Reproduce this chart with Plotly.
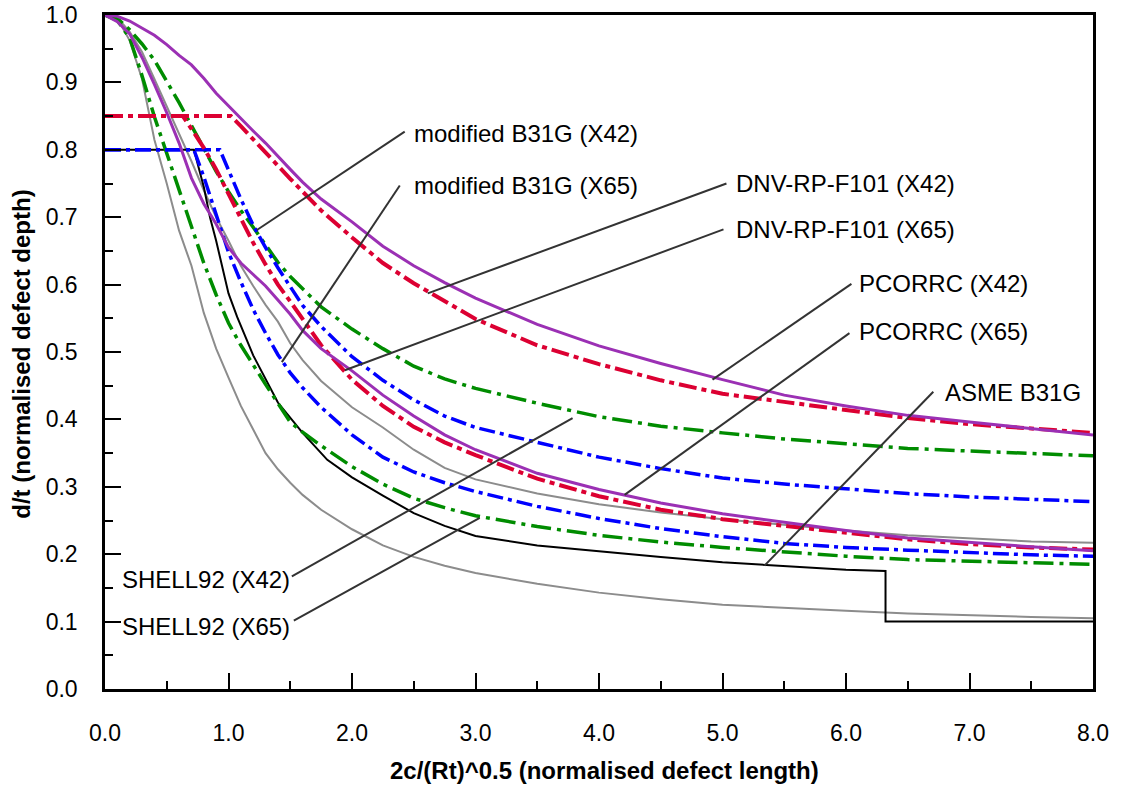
import plotly.graph_objects as go

# ---------------- data ----------------
x_common = [0, 0.1, 0.2, 0.3, 0.4, 0.5, 0.6, 0.7, 0.8, 0.9, 1.0, 1.1, 1.2, 1.3, 1.4,
            1.5, 1.6, 1.75, 2.0, 2.25, 2.5, 2.75, 3.0, 3.5, 4.0, 4.5, 5.0, 5.5,
            6.0, 6.5, 7.0, 7.5, 8.0]

gray_upper = [1.0, 0.996, 0.975, 0.945, 0.905, 0.865, 0.824, 0.783, 0.74, 0.70, 0.665,
              0.628, 0.598, 0.57, 0.545, 0.513, 0.488, 0.457, 0.418, 0.388, 0.355, 0.328,
              0.311, 0.29, 0.274, 0.262, 0.252, 0.243, 0.235, 0.228, 0.223, 0.219, 0.217]
gray_lower = [1.0, 0.995, 0.962, 0.905, 0.815, 0.75, 0.68, 0.628, 0.558, 0.505, 0.462,
              0.42, 0.385, 0.35, 0.326, 0.306, 0.288, 0.266, 0.237, 0.213, 0.196, 0.183,
              0.172, 0.156, 0.143, 0.133, 0.125, 0.12, 0.116, 0.112, 0.109, 0.107, 0.105]

shell92_x42 = [1.0, 0.995, 0.978, 0.957, 0.933, 0.902, 0.87, 0.836, 0.803, 0.768, 0.738,
               0.71, 0.685, 0.658, 0.633, 0.612, 0.594, 0.567, 0.534, 0.505, 0.479, 0.46,
               0.446, 0.424, 0.404, 0.39, 0.38, 0.371, 0.364, 0.357, 0.353, 0.349, 0.346]
shell92_x65 = [1.0, 0.992, 0.966, 0.91, 0.849, 0.795, 0.742, 0.686, 0.632, 0.585, 0.543,
               0.51, 0.48, 0.452, 0.424, 0.396, 0.381, 0.361, 0.33, 0.304, 0.283, 0.269,
               0.257, 0.241, 0.228, 0.218, 0.21, 0.203, 0.197, 0.192, 0.19, 0.187, 0.185]

pcorrc_x42 = [1.0, 0.998, 0.991, 0.981, 0.970, 0.956, 0.940, 0.926, 0.906, 0.884, 0.865,
              0.846, 0.828, 0.81, 0.79, 0.771, 0.752, 0.727, 0.693, 0.657, 0.628, 0.603,
              0.58, 0.541, 0.509, 0.483, 0.459, 0.436, 0.42, 0.406, 0.396, 0.386, 0.377]
pcorrc_x65 = [1.0, 0.99, 0.972, 0.937, 0.897, 0.855, 0.81, 0.758, 0.72, 0.69, 0.655,
              0.632, 0.615, 0.598, 0.577, 0.556, 0.532, 0.505, 0.472, 0.436, 0.405, 0.377,
              0.355, 0.32, 0.296, 0.276, 0.26, 0.247, 0.235, 0.224, 0.217, 0.211, 0.205]

dnv_x42_x = [0, 1.02, 1.1, 1.2, 1.3, 1.4, 1.5, 1.6, 1.75, 2.0, 2.25, 2.5, 2.75, 3.0,
             3.5, 4.0, 4.5, 5.0, 5.5, 6.0, 6.5, 7.0, 7.5, 8.0]
dnv_x42_y = [0.85, 0.85, 0.835, 0.815, 0.796, 0.776, 0.757, 0.738, 0.71, 0.67, 0.632,
             0.602, 0.575, 0.549, 0.51, 0.482, 0.458, 0.438, 0.426, 0.414, 0.402, 0.393,
             0.386, 0.38]
dnv_x65_x = [0, 0.63, 0.7, 0.8, 0.9, 1.0, 1.1, 1.2, 1.3, 1.4, 1.5, 1.6, 1.75, 2.0, 2.25,
             2.5, 2.75, 3.0, 3.5, 4.0, 4.5, 5.0, 5.5, 6.0, 6.5, 7.0, 7.5, 8.0]
dnv_x65_y = [0.85, 0.85, 0.831, 0.803, 0.771, 0.735, 0.697, 0.662, 0.63, 0.60, 0.575,
             0.549, 0.51, 0.459, 0.42, 0.389, 0.366, 0.347, 0.312, 0.286, 0.266, 0.252,
             0.242, 0.232, 0.222, 0.215, 0.21, 0.207]

mb31g_x42_x = [0, 0.93, 1.0, 1.1, 1.2, 1.3, 1.4, 1.5, 1.6, 1.75, 2.0, 2.25, 2.5, 2.75,
               3.0, 3.5, 4.0, 4.5, 5.0, 5.5, 6.0, 6.5, 7.0, 7.5, 8.0]
mb31g_x42_y = [0.8, 0.8, 0.77, 0.727, 0.688, 0.655, 0.625, 0.598, 0.569, 0.538, 0.493,
               0.458, 0.429, 0.405, 0.388, 0.366, 0.344, 0.327, 0.313, 0.304, 0.297,
               0.29, 0.285, 0.281, 0.278]
mb31g_x65_x = [0, 0.72, 0.8, 0.9, 1.0, 1.1, 1.2, 1.3, 1.4, 1.5, 1.6, 1.75, 2.0, 2.25,
               2.5, 2.75, 3.0, 3.5, 4.0, 4.5, 5.0, 5.5, 6.0, 6.5, 7.0, 7.5, 8.0]
mb31g_x65_y = [0.8, 0.8, 0.76, 0.705, 0.648, 0.604, 0.563, 0.528, 0.496, 0.469, 0.447,
               0.418, 0.377, 0.344, 0.322, 0.306, 0.293, 0.271, 0.253, 0.238, 0.226,
               0.216, 0.21, 0.206, 0.202, 0.199, 0.197]

asme_x = [0, 0.72, 0.8, 0.85, 0.9, 1.0, 1.07, 1.2, 1.4, 1.6, 1.8, 2.0, 2.25, 2.5, 2.75,
          3.0, 3.5, 4.0, 4.5, 5.0, 5.5, 6.0, 6.32, 6.32, 8.0]
asme_y = [0.8, 0.8, 0.745, 0.70, 0.665, 0.587, 0.552, 0.495, 0.425, 0.38, 0.34, 0.314,
          0.287, 0.261, 0.242, 0.227, 0.213, 0.204, 0.196, 0.188, 0.182, 0.177, 0.175,
          0.1, 0.1]

x_tick_vals = [0, 1, 2, 3, 4, 5, 6, 7, 8]
x_tick_text = ["0.0", "1.0", "2.0", "3.0", "4.0", "5.0", "6.0", "7.0", "8.0"]
y_tick_vals = [0.0, 0.1, 0.2, 0.3, 0.4, 0.5, 0.6, 0.7, 0.8, 0.9, 1.0]
y_tick_text = ["0.0", "0.1", "0.2", "0.3", "0.4", "0.5", "0.6", "0.7", "0.8", "0.9", "1.0"]

# label text, text anchor point, leader tail, leader head (data coordinates)
labels = [
    ("modified B31G (X42)", "left", (2.484, 0.824), (2.427, 0.827), (1.23, 0.681)),
    ("modified B31G (X65)", "left", (2.484, 0.747), (2.387, 0.747), (1.432, 0.485)),
    ("DNV-RP-F101 (X42)", "left", (5.097, 0.750), (5.032, 0.750), (2.613, 0.587)),
    ("DNV-RP-F101 (X65)", "left", (5.097, 0.682), (5.008, 0.682), (1.942, 0.473)),
    ("PCORRC (X42)", "left", (6.092, 0.602), (6.044, 0.601), (4.919, 0.459)),
    ("PCORRC (X65)", "left", (6.092, 0.530), (6.028, 0.528), (4.207, 0.288)),
    ("ASME B31G", "left", (6.788, 0.440), (6.707, 0.441), (5.34, 0.183)),
    ("SHELL92 (X42)", "left", (0.121, 0.162), (1.513, 0.167), (3.786, 0.402)),
    ("SHELL92 (X65)", "left", (0.121, 0.0926), (1.529, 0.1015), (3.034, 0.254)),
]

# ---------------- styles ----------------
RED = "#DC0032"
BLUE = "#0000FF"
GREEN = "#008C00"
PURPLE = "#9B30B4"
GRAY = "#8C8C8C"
FONT = "Liberation Sans, Arial, sans-serif"

fig = go.Figure()

def add(x, y, color, width, dash="solid"):
    fig.add_trace(go.Scatter(x=x, y=y, mode="lines", showlegend=False,
                             line=dict(color=color, width=width, dash=dash),
                             hoverinfo="skip"))

add(x_common, gray_lower, GRAY, 2)
add(x_common, gray_upper, GRAY, 2)
add(asme_x, asme_y, "black", 2)
add(x_common, shell92_x42, GREEN, 3.5, "20px,6px,4px,6px")
add(x_common, shell92_x65, GREEN, 3.5, "20px,6px,4px,6px")
add(mb31g_x42_x, mb31g_x42_y, BLUE, 3.5, "16px,5px,4px,5px")
add(mb31g_x65_x, mb31g_x65_y, BLUE, 3.5, "16px,5px,4px,5px")
add(dnv_x42_x, dnv_x42_y, RED, 4, "18px,5px,5px,5px")
add(dnv_x65_x, dnv_x65_y, RED, 4, "18px,5px,5px,5px")
add(x_common, pcorrc_x42, PURPLE, 3)
add(x_common, pcorrc_x65, PURPLE, 3)

shapes = []
annotations = []
for text, anchor, (tx, ty), (lx0, ly0), (lx1, ly1) in labels:
    shapes.append(dict(type="line", xref="x", yref="y", x0=lx0, y0=ly0, x1=lx1, y1=ly1,
                       line=dict(color="#333333", width=2)))
    annotations.append(dict(x=tx, y=ty, xref="x", yref="y", text=text, showarrow=False,
                            xanchor=anchor, yanchor="middle",
                            font=dict(family=FONT, size=24, color="black")))

annotations.append(dict(x=0.506, y=-0.121, xref="paper", yref="paper",
                        text="<b>2c/(Rt)^0.5 (normalised defect length)</b>",
                        showarrow=False, xanchor="center", yanchor="middle",
                        font=dict(family=FONT, size=24, color="black")))
annotations.append(dict(x=-0.084, y=0.496, xref="paper", yref="paper",
                        text="<b>d/t (normalised defect depth)</b>", textangle=-90,
                        showarrow=False, xanchor="center", yanchor="middle",
                        font=dict(family=FONT, size=24, color="black")))

fig.update_layout(
    width=1121, height=791,
    margin=dict(l=105, r=27.5, t=14.5, b=101.5, autoexpand=False),
    paper_bgcolor="white", plot_bgcolor="white",
    shapes=shapes, annotations=annotations,
    font=dict(family=FONT, size=23, color="black"),
)
fig.update_xaxes(range=[0, 8], tickvals=x_tick_vals, ticktext=x_tick_text,
                 ticks="inside", ticklen=16, tickwidth=2, tickcolor="black",
                 minor=dict(dtick=0.5, ticks="inside", ticklen=8, tickwidth=2,
                            tickcolor="black", showgrid=False),
                 showline=True, linewidth=2.5, linecolor="black", mirror=True,
                 showgrid=False, zeroline=False, ticklabelstandoff=22, automargin=False,
                 tickfont=dict(family=FONT, size=23))
fig.update_yaxes(range=[0, 1], tickvals=y_tick_vals, ticktext=y_tick_text,
                 ticks="inside", ticklen=16, tickwidth=2, tickcolor="black",
                 minor=dict(dtick=0.05, ticks="inside", ticklen=8, tickwidth=2,
                            tickcolor="black", showgrid=False),
                 showline=True, linewidth=2.5, linecolor="black", mirror=True,
                 showgrid=False, zeroline=False, ticklabelstandoff=20, automargin=False,
                 tickfont=dict(family=FONT, size=23))

fig.write_html("out.html",
               config={"displayModeBar": False},
               post_script="document.body.style.margin='0';"
                           "document.body.style.overflow='hidden';")
